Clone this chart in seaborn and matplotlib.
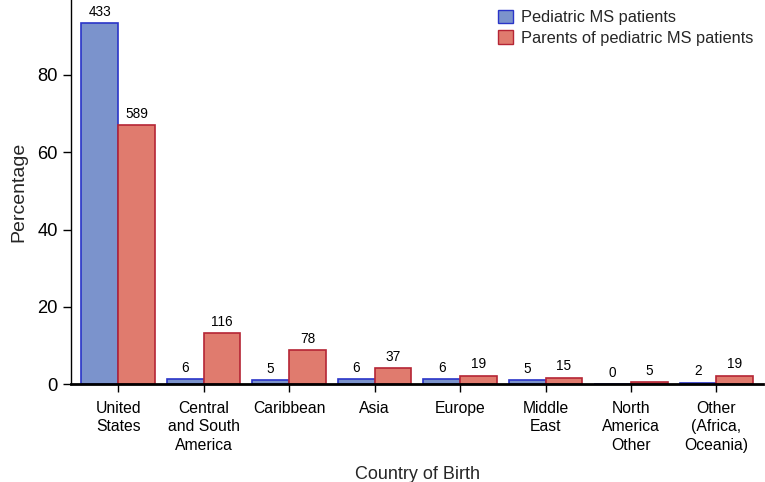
import matplotlib
matplotlib.use("Agg")
import matplotlib.pyplot as plt
import seaborn as sns
import pandas as pd

# datos
paises = ["United\nStates", "Central\nand South\nAmerica", "Caribbean", "Asia",
          "Europe", "Middle\nEast", "North\nAmerica\nOther", "Other\n(Africa,\nOceania)"]
pct_pediatric = [93.5, 1.3, 1.1, 1.3, 1.3, 1.1, 0.0, 0.4]
pct_parents = [67.1, 13.2, 8.9, 4.2, 2.2, 1.7, 0.6, 2.2]
n_pediatric = [433, 6, 5, 6, 6, 5, 0, 2]
n_parents = [589, 116, 78, 37, 19, 15, 5, 19]
grupos = ["Pediatric MS patients", "Parents of pediatric MS patients"]

df = pd.DataFrame({
    "pais": paises * 2,
    "pct": pct_pediatric + pct_parents,
    "grupo": [grupos[0]] * len(paises) + [grupos[1]] * len(paises),
})

sns.set_style("ticks")
plt.rcParams["font.family"] = ["Liberation Sans", "DejaVu Sans"]

fig = plt.figure(figsize=(7.65, 4.82), dpi=100)
ax = fig.add_axes([0.093, 0.203, 0.905, 0.797])

colores = {grupos[0]: "#7b93cc", grupos[1]: "#e07b6e"}
bordes = ["#2a35c8", "#b52535"]

sns.barplot(data=df, x="pais", y="pct", hue="grupo", palette=colores,
            width=0.86, ax=ax, saturation=1)

# bordes de color por grupo + etiquetas con n
for cont, borde, cuentas in zip(ax.containers, bordes, [n_pediatric, n_parents]):
    for p, n in zip(cont, cuentas):
        p.set_edgecolor(borde)
        p.set_linewidth(1.2)
        ax.annotate(f"{n}", (p.get_x() + p.get_width() / 2., p.get_height()),
                    ha="center", va="bottom", fontsize=9.8, color="black",
                    xytext=(0, 3), textcoords="offset points")

ax.set_xlim(-0.55, 7.55)
ax.set_ylim(0, 99.4)
ax.set_yticks([0, 20, 40, 60, 80])
ax.set_xlabel("Country of Birth", fontsize=13, labelpad=9)
ax.set_ylabel("Percentage", fontsize=14, labelpad=7)
ax.tick_params(axis="y", labelsize=13.2, length=6, width=1, colors="black")
ax.tick_params(axis="x", labelsize=11.3, length=6, width=1, colors="black", pad=6)
for t in ax.get_xticklabels():
    t.set_linespacing(1.3)

sns.despine(ax=ax)
ax.spines["bottom"].set_linewidth(2)
ax.spines["left"].set_linewidth(1)
ax.spines["bottom"].set_color("black")
ax.spines["left"].set_color("black")

leg = ax.legend(loc="upper right", frameon=False, fontsize=11.8,
                handlelength=0.9, handleheight=0.9, handletextpad=0.5,
                labelspacing=0.3, borderaxespad=0.2, bbox_to_anchor=(1.0, 1.0))
for h, borde in zip(leg.legend_handles, bordes):
    h.set_edgecolor(borde)
    h.set_linewidth(1)

plt.savefig("out.png", dpi=100)
